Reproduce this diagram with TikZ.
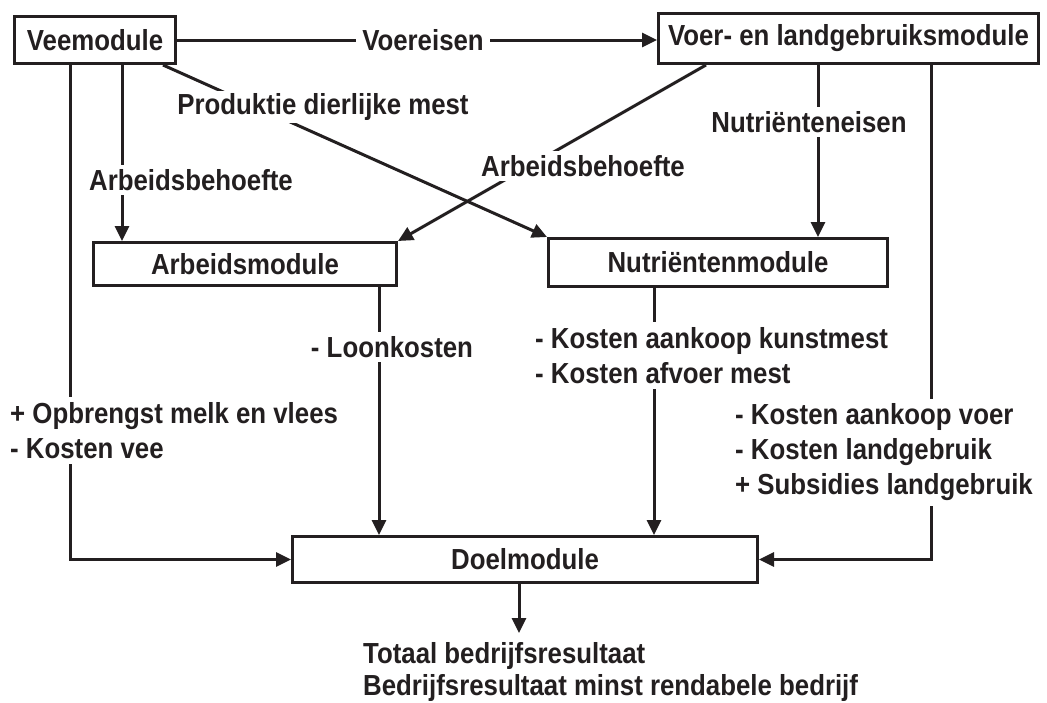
\documentclass[tikz,border=0pt]{standalone}
\usepackage{fontspec}
\setmainfont{Liberation Sans}[FakeStretch=0.89]
\usetikzlibrary{arrows.meta,calc}
\definecolor{ink}{RGB}{35,31,32}
\begin{document}
\begin{tikzpicture}[x=1pt,y=-1pt,
  every node/.style={font=\fontsize{29}{35}\selectfont\bfseries, text=ink},
  modbox/.style={draw=ink, line width=3pt, inner sep=0pt, fill=white},
  conn/.style={draw=ink, line width=3pt},
  arr/.style={conn, -{Triangle[length=15pt,width=14pt]}},
  lab/.style={fill=white, inner xsep=6pt, inner ysep=4pt},
  mlab/.style={fill=white, inner xsep=2pt, inner ysep=5pt, align=left, anchor=west}]
\useasboundingbox (0,0) rectangle (1047,702);
\fill[white] (0,0) rectangle (1047,702);
% boxes
\node[modbox, minimum width=161pt, minimum height=47pt] (vee) at (95,40) {Veemodule};
\node[modbox, minimum width=380pt, minimum height=50pt] (voer) at (848.5,38.5) {Voer- en landgebruiksmodule};
\node[modbox, minimum width=303pt, minimum height=43pt] (arb) at (245,264) {Arbeidsmodule};
\node[modbox, minimum width=339pt, minimum height=48pt] (nutr) at (718,262.5) {Nutriëntenmodule};
\node[modbox, minimum width=465pt, minimum height=46pt] (doel) at (525,559.5) {Doelmodule};
% x positions
\coordinate (xa) at (70,0);
\coordinate (xb) at (122,0);
\coordinate (xc) at (163,0);
\coordinate (xd) at (706,0);
\coordinate (xe) at (818,0);
\coordinate (xf) at (931,0);
\coordinate (xg) at (379,0);
\coordinate (xh) at (654,0);
\coordinate (xi) at (519,0);
\coordinate (out) at (519,633);
% connectors
\draw[arr] (vee.east) -- (vee.east -| voer.west);
\draw[arr] (vee.south -| xc) -- (nutr.north west);
\draw[arr] (vee.south -| xb) -- (arb.north -| xb);
\draw[arr] (vee.south -| xa) |- (doel.west);
\draw[arr] (voer.south -| xd) -- (arb.north east);
\draw[arr] (voer.south -| xe) -- (nutr.north -| xe);
\draw[arr] (voer.south -| xf) |- (doel.east);
\draw[arr] (arb.south -| xg) -- (doel.north -| xg);
\draw[arr] (nutr.south -| xh) -- (doel.north -| xh);
\draw[arr] (doel.south -| xi) -- (out);
% labels
\node[lab] (l1) at (423,40) {Voereisen};
\node[lab, inner ysep=2pt] (l2) at (323,107) {Produktie dierlijke mest};
\node[lab] (l3) at (191,180) {Arbeidsbehoefte};
\node[lab] (l4) at (583,166) {Arbeidsbehoefte};
\node[lab] (l5) at (809,122) {Nutriënteneisen};
\node[lab] (l6) at (392,347) {- Loonkosten};
\node[mlab] (l7) at (533,355.5) {- Kosten aankoop kunstmest\\- Kosten afvoer mest};
\node[mlab] (l8) at (8,430.5) {+ Opbrengst melk en vlees\\- Kosten vee};
\node[mlab] (l9) at (733,452.5) {- Kosten aankoop voer\\- Kosten landgebruik\\+ Subsidies landgebruik};
\node[mlab, fill=none, font=\fontsize{29}{32}\selectfont\bfseries] (l10) at (361,672) {Totaal bedrijfsresultaat\\Bedrijfsresultaat minst rendabele bedrijf};
\end{tikzpicture}
\end{document}
